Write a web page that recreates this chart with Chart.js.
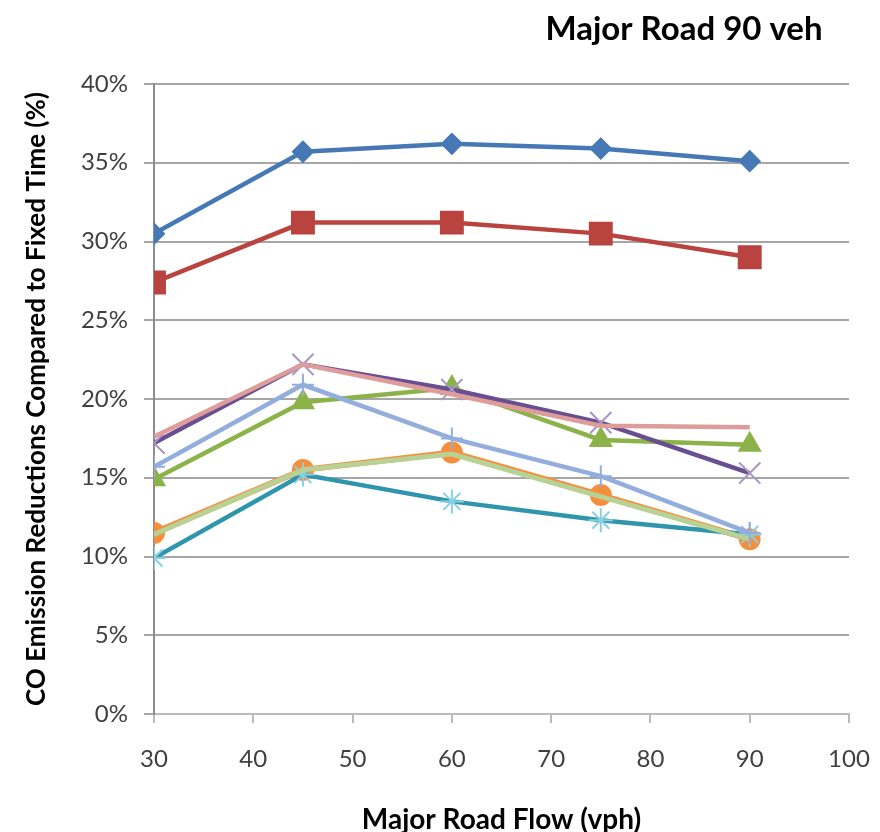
<!DOCTYPE html>
<html>
<head>
<meta charset="utf-8">
<script src="https://cdn.jsdelivr.net/npm/chart.js@4.4.1/dist/chart.umd.min.js"></script>
<style>
  body { margin: 0; background: #fff; }
  #wrap { width: 880px; height: 832px; }
</style>
</head>
<body>
<div id="wrap"><canvas id="myChart"></canvas></div>
<script>
//--------------------- Data ---------------------
const flows = [30, 45, 60, 75, 90];
const xTicks = [30, 40, 50, 60, 70, 80, 90, 100];

const seriesBlue = [30.5, 35.7, 36.2, 35.9, 35.1];
const seriesRed = [27.4, 31.2, 31.2, 30.5, 29.0];
const seriesGreen = [14.9, 19.8, 20.7, 17.4, 17.1];
const seriesPurple = [17.2, 22.2, 20.6, 18.5, 15.3];
const seriesTeal = [9.9, 15.2, 13.5, 12.3, 11.4];
const seriesOrange = [11.5, 15.5, 16.6, 13.9, 11.1];
const seriesLightBlue = [15.7, 20.9, 17.5, 15.1, 11.5];
const seriesPink = [17.6, 22.2, 20.3, 18.3, 18.2];
const seriesLightGreen = [11.4, 15.5, 16.5, 13.8, 11.1];

const chartTitle = "Major Road 90 veh";
const xTitle = "Major Road Flow (vph)";
const yTitle = "CO Emission Reductions Compared to Fixed Time (%)";

const FONT = "Lato, 'Open Sans', sans-serif";

// build {x, y} points from the flow list
const toPoints = (vals) => vals.map((v, i) => ({ x: flows[i], y: v }));

function makeSet(vals, line, marker, style, radius, width) {
  return {
    data: toPoints(vals),
    borderColor: line,
    backgroundColor: line,
    borderWidth: width || 4.5,
    pointStyle: style || false,
    pointRadius: style ? radius : 0,
    pointBackgroundColor: marker,
    pointBorderColor: marker,
    pointBorderWidth: 2,
    tension: 0,
  };
}

// title drawn right of centre, like the original
const titlePlugin = {
  id: "sideTitle",
  afterDraw(chart) {
    const c = chart.ctx;
    c.save();
    c.font = "bold 33px " + FONT;
    c.fillStyle = "#000";
    c.textAlign = "center";
    c.textBaseline = "middle";
    c.fillText(chartTitle, 684, 29);
    c.restore();
  },
};

// first dataset is drawn on top
const ctx = document.getElementById("myChart").getContext("2d");
const myChart = new Chart(ctx, {
  type: "line",
  data: {
    datasets: [
      makeSet(seriesPink, "#DE9C9A", "#DE9C9A", null, 0),
      makeSet(seriesLightBlue, "#93AEDC", "#93AEDC", "cross", 11),
      makeSet(seriesPurple, "#694F92", "#A896C8", "crossRot", 15),
      makeSet(seriesLightGreen, "#B8D295", "#B8D295", null, 0, 5),
      makeSet(seriesTeal, "#2F95AD", "#86D0E2", "star", 12),
      makeSet(seriesGreen, "#8BB34A", "#8BB34A", "triangle", 12),
      makeSet(seriesOrange, "#F58F3E", "#F58F3E", "circle", 10, 6),
      makeSet(seriesRed, "#B9433F", "#B9433F", "rect", 15.5),
      makeSet(seriesBlue, "#4678B6", "#4678B6", "rectRot", 10),
    ],
  },
  options: {
    responsive: true,
    maintainAspectRatio: false,
    animation: false,
    layout: { padding: { top: 84, right: 31, left: 0, bottom: 0 } },
    plugins: {
      legend: { display: false },
      tooltip: { enabled: false },
    },
    scales: {
      x: {
        type: "linear",
        min: 30,
        max: 100,
        afterBuildTicks: (scale) => {
          scale.ticks = xTicks.map((v) => ({ value: v }));
        },
        afterFit: (scale) => {
          scale.height = 118;
          scale.paddingLeft = 0;
          scale.paddingRight = 0;
        },
        grid: { drawOnChartArea: false, drawTicks: true, tickLength: 9, color: "#BBBBBB", lineWidth: 2 },
        border: { color: "#BBBBBB", width: 2 },
        ticks: { color: "#404040", font: { family: FONT, size: 24 }, padding: 22, maxRotation: 0 },
        title: { display: true, text: xTitle, color: "#000", font: { family: FONT, size: 28, weight: "bold", lineHeight: 0.85 }, padding: { top: 0, bottom: 0 } },
      },
      y: {
        min: 0,
        max: 40,
        afterFit: (scale) => {
          scale.width = 154;
        },
        grid: { color: "#A6A6A6", lineWidth: 2, tickLength: 10 },
        border: { color: "#8C8C8C", width: 2 },
        ticks: {
          stepSize: 5,
          color: "#404040",
          font: { family: FONT, size: 24 },
          padding: 16,
          callback: (v) => v + "%",
        },
        title: { display: true, text: yTitle, color: "#000", font: { family: FONT, size: 26, weight: "bold" }, padding: { top: 21, bottom: 0 } },
      },
    },
  },
  plugins: [titlePlugin],
});
</script>
</body>
</html>
